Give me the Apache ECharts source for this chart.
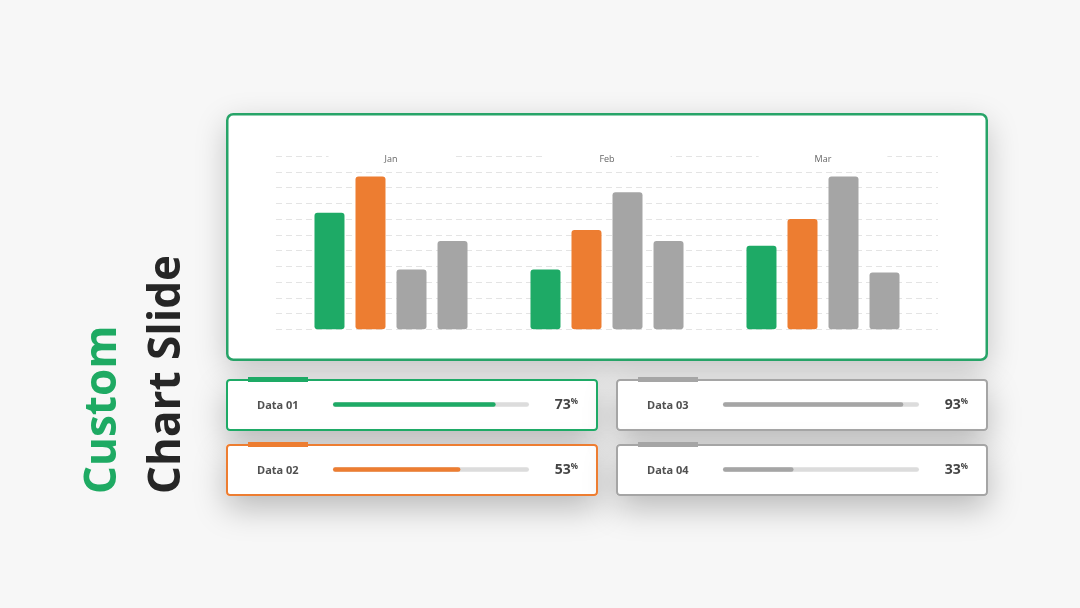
<!DOCTYPE html>
<html>
<head>
<meta charset="utf-8">
<script src="https://cdn.jsdelivr.net/npm/echarts@6/dist/echarts.min.js"></script>
<style>
    html, body { margin: 0; padding: 0; background: #f7f7f7; }
    #chart { width: 1080px; height: 608px; }
</style>
</head>
<body>
<div id="chart"></div>
<script>
const chart = echarts.init(document.getElementById("chart"));

// main bar chart
const categories = ["Jan", "Feb", "Mar"];
const greenValues = [7.4, 3.8, 5.3];
const orangeValues = [9.7, 6.3, 7.0];
const grayValues = [3.8, 8.7, 9.7];
const gray2Values = [5.6, 5.6, 3.6];

// progress boxes
const dataNames = ["Data 01", "Data 02", "Data 03", "Data 04"];
const dataPercent = [73, 53, 93, 33];
const dataFill = [83, 65, 92, 36];

const GREEN = "#1eaa66";
const ORANGE = "#ed7d31";
const GRAY = "#a5a5a5";
const boxColors = [GREEN, ORANGE, GRAY, GRAY];
const FONT = "Open Sans";

const graphic = [];

// chart panel: shadow/fill first, border on top without shadow
graphic.push({
    type: "rect", z: -10,
    shape: {x: 227, y: 114, width: 760, height: 246, r: 6},
    style: {fill: "#fff", shadowBlur: 32, shadowColor: "rgba(0,0,0,0.22)", shadowOffsetY: 10}
});
graphic.push({
    type: "rect", z: -9,
    shape: {x: 227.25, y: 114.25, width: 759.5, height: 245.5, r: 6},
    style: {fill: null, stroke: "#27a468", lineWidth: 2.5}
});

const grids = [
    {left: 276, top: 156, width: 662, height: 173.25},
    {left: 283, top: 156, width: 648, height: 173.25}
];
const xAxes = [
    {gridIndex: 0, type: "category", data: categories, show: false},
    {gridIndex: 1, type: "category", data: categories, position: "top", z: 5,
        axisLine: {show: false}, axisTick: {show: false}, splitLine: {show: false},
        axisLabel: {margin: -3, verticalAlign: "middle", fontSize: 9, color: "#666",
            fontFamily: FONT, backgroundColor: "#fff", padding: [3, 56]}}
];
const yAxes = [
    {gridIndex: 0, type: "value", min: 0, max: 11, interval: 1, z: 0,
        axisLine: {show: false}, axisTick: {show: false}, axisLabel: {show: false},
        splitLine: {lineStyle: {color: "#e4e4e4", type: [6, 4], width: 1}}},
    {gridIndex: 1, type: "value", min: 0, max: 11, show: false, splitLine: {show: false}}
];

const mainBar = (data, color) => ({
    type: "bar", xAxisIndex: 1, yAxisIndex: 1, data, z: 4,
    barWidth: 30, barGap: "36.7%",
    itemStyle: {color, borderRadius: 3, borderWidth: 0}
});
const series = [
    mainBar(greenValues, GREEN),
    mainBar(orangeValues, ORANGE),
    mainBar(grayValues, GRAY),
    mainBar(gray2Values, GRAY)
];

dataNames.forEach((name, i) => {
    const col = Math.floor(i / 2);
    const row = i % 2;
    const boxX = [226, 616][col];
    const boxY = [379, 444][row];
    const color = boxColors[i];

    graphic.push({
        type: "rect", z: -6,
        shape: {x: boxX, y: boxY, width: 372, height: 52, r: 3},
        style: {fill: "#fff", shadowBlur: 32, shadowColor: "rgba(0,0,0,0.25)", shadowOffsetY: 12}
    });
    graphic.push({
        type: "rect", z: -5,
        shape: {x: boxX + 1, y: boxY + 1, width: 370, height: 50, r: 3},
        style: {fill: null, stroke: color, lineWidth: 2}
    });
    graphic.push({
        type: "rect", z: -4,
        shape: {x: boxX + 22, y: boxY - 2, width: 60, height: 5},
        style: {fill: color}
    });
    graphic.push({
        type: "text", z: 10, x: boxX + 31, y: boxY + 27,
        style: {text: name, fill: "#505050", font: `bold 11px "${FONT}"`,
            textAlign: "left", textVerticalAlign: "middle"}
    });
    graphic.push({
        type: "text", z: 10, x: boxX + 352, y: boxY + 26,
        style: {
            text: `{v|${dataPercent[i]}}{p|%}`, textAlign: "right", textVerticalAlign: "middle",
            rich: {
                v: {fontSize: 14, fontWeight: "bold", fontFamily: FONT, fill: "#444"},
                p: {fontSize: 8, fontWeight: "bold", fontFamily: FONT, fill: "#444", verticalAlign: "top"}
            }
        }
    });

    const gi = grids.length;
    grids.push({left: boxX + 107, top: boxY + 23, width: 196, height: 5});
    xAxes.push({gridIndex: gi, type: "value", min: 0, max: 100, show: false});
    yAxes.push({gridIndex: gi, type: "category", data: [name], show: false});
    series.push({
        type: "bar", xAxisIndex: gi, yAxisIndex: gi, data: [dataFill[i]], barWidth: 4.5,
        showBackground: true, backgroundStyle: {color: "#dcdcdc", borderRadius: 2.25},
        itemStyle: {color, borderRadius: 2.25}, silent: true
    });
});

// vertical title
graphic.push({
    type: "text", z: 10, x: 103, y: 494, rotation: Math.PI / 2,
    style: {text: "Custom", fill: "#1eaa63", font: `bold 44px "${FONT}"`,
        textAlign: "left", textVerticalAlign: "middle"}
});
graphic.push({
    type: "text", z: 10, x: 167, y: 494, rotation: Math.PI / 2,
    style: {text: "Chart Slide", fill: "#262626", font: `bold 44px "${FONT}"`,
        textAlign: "left", textVerticalAlign: "middle"}
});

chart.setOption({
    backgroundColor: "#f7f7f7",
    animation: false,
    graphic,
    grid: grids,
    xAxis: xAxes,
    yAxis: yAxes,
    series
});

window.addEventListener("resize", () => chart.resize());
</script>
</body>
</html>
